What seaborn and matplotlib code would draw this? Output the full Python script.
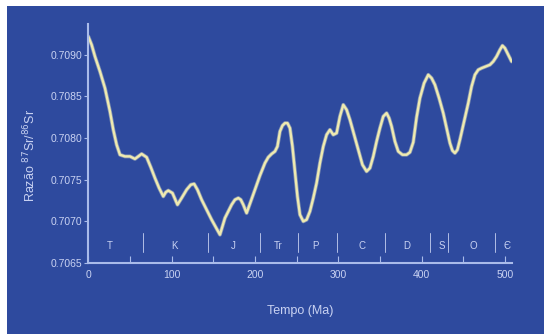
import numpy as np
import pandas as pd
import matplotlib
matplotlib.use("Agg")
import matplotlib.pyplot as plt
import matplotlib.patheffects as pe
from matplotlib.patches import Rectangle
import seaborn as sns

# idade (Ma) e razao 87Sr/86Sr
age = [0, 4, 8, 14, 20, 26, 30, 34, 38, 44, 50, 56, 60, 64, 70, 75, 80, 85, 90, 93,
       96, 101, 104, 107, 112, 118, 123, 127, 131, 136, 142, 148, 153, 158, 161, 164,
       168, 172, 176, 180, 183, 186, 190, 195, 200, 206, 212, 216, 220, 224, 227, 230,
       233, 236, 239, 242, 245, 248, 251, 254, 258, 262, 266, 270, 274, 278, 282, 286,
       290, 294, 298, 302, 306, 310, 314, 319, 324, 329, 334, 338, 342, 346, 350, 354,
       358, 361, 364, 368, 372, 377, 382, 386, 390, 394, 398, 403, 408, 412, 416, 421,
       426, 430, 434, 437, 440, 443, 446, 451, 456, 460, 464, 468, 472, 477, 482, 486,
       490, 494, 497, 500, 504, 508]
ratio = [0.70922, 0.70912, 0.70898, 0.70880, 0.70860, 0.70832, 0.70810, 0.70792, 0.70780,
         0.70778, 0.70778, 0.70775, 0.70778, 0.70781, 0.70777, 0.70765, 0.70752, 0.70740,
         0.70730, 0.70735, 0.70737, 0.70734, 0.70727, 0.70720, 0.70728, 0.70738, 0.70744,
         0.70745, 0.70738, 0.70726, 0.70714, 0.70702, 0.70693, 0.70684, 0.70694, 0.70704,
         0.70712, 0.70720, 0.70726, 0.70728, 0.70726, 0.70720, 0.70710, 0.70724, 0.70738,
         0.70755, 0.70770, 0.70777, 0.70781, 0.70784, 0.70790, 0.70808, 0.70815, 0.70818,
         0.70818, 0.70812, 0.70790, 0.70760, 0.70730, 0.70708, 0.70700, 0.70702, 0.70712,
         0.70728, 0.70746, 0.70770, 0.70790, 0.70804, 0.70810, 0.70804, 0.70806, 0.70826,
         0.70840, 0.70834, 0.70822, 0.70804, 0.70786, 0.70768, 0.70760, 0.70764, 0.70778,
         0.70796, 0.70812, 0.70826, 0.70830, 0.70824, 0.70814, 0.70796, 0.70784, 0.70780,
         0.70780, 0.70783, 0.70795, 0.70825, 0.70848, 0.70866, 0.70876, 0.70872, 0.70864,
         0.70848, 0.70830, 0.70812, 0.70794, 0.70785, 0.70782, 0.70786, 0.70798, 0.70820,
         0.70842, 0.70862, 0.70876, 0.70882, 0.70884, 0.70886, 0.70888, 0.70892, 0.70898,
         0.70906, 0.70911, 0.70908, 0.70900, 0.70892]

# periodos geologicos
period_labels = ["T", "K", "J", "Tr", "P", "C", "D", "S", "O", "Є"]
period_pos = [26, 104, 174, 228, 272, 328, 382, 424, 462, 502]
boundaries = [66, 144, 206, 252, 298, 356, 410, 432, 488]

df = pd.DataFrame({"Tempo": age, "Razao": ratio})

bg = "#2e4a9e"
fg = "#c9d2f2"
spine_c = "#a9bbea"

sns.set_theme(style="ticks")
plt.rcParams["font.family"] = ["Liberation Sans", "DejaVu Sans"]

fig = plt.figure(figsize=(5.44, 3.34), dpi=100, facecolor="white")
fig.patches.append(Rectangle((7 / 544, 0), 1, (334 - 6) / 334, transform=fig.transFigure,
                             facecolor=bg, edgecolor="none", zorder=-10))
ax = fig.add_axes([88.3 / 544, 1 - 263 / 334, (512 - 88.3) / 544, (263 - 24) / 334])
ax.set_facecolor(bg)

sns.lineplot(data=df, x="Tempo", y="Razao", ax=ax, color="#efeab0", linewidth=1.7,
             path_effects=[pe.Stroke(linewidth=2.8, foreground="#c8cfc0", alpha=0.55), pe.Normal()])

for b in boundaries:
    ax.plot([b, b], [0.70663, 0.70686], color=fg, lw=0.7, alpha=0.85)
for lab, p in zip(period_labels, period_pos):
    ax.text(p, 0.70670, lab, color=fg, fontsize=7, ha="center", va="center")

ax.set_xlim(0, 508.5)
ax.set_ylim(0.7065, 0.70937)
ax.set_xticks([0, 100, 200, 300, 400, 500])
ax.set_xticks(np.arange(50, 501, 100), minor=True)
ax.set_yticks([0.7065, 0.7070, 0.7075, 0.7080, 0.7085, 0.7090])
ax.set_yticklabels(["0.7065", "0.7070", "0.7075", "0.7080", "0.7085", "0.7090"])
ax.tick_params(axis="x", which="both", direction="in", length=5, width=0.8, color=spine_c,
               labelcolor=fg, labelsize=7.5, pad=5)
ax.tick_params(axis="y", direction="out", length=3, width=0.8, color=spine_c,
               labelcolor=fg, labelsize=7.5, pad=1)

for s in ["top", "right"]:
    ax.spines[s].set_visible(False)
for s in ["left", "bottom"]:
    ax.spines[s].set_color(spine_c)
    ax.spines[s].set_linewidth(1.5)

ax.set_xlabel("Tempo (Ma)", color=fg, fontsize=9, labelpad=18)
ax.set_ylabel("Razão $^{87}$Sr/$^{86}$Sr", color=fg, fontsize=9)
ax.yaxis.set_label_coords(-0.118, 0.45)

fig.savefig("out.png", dpi=100, facecolor="white")
